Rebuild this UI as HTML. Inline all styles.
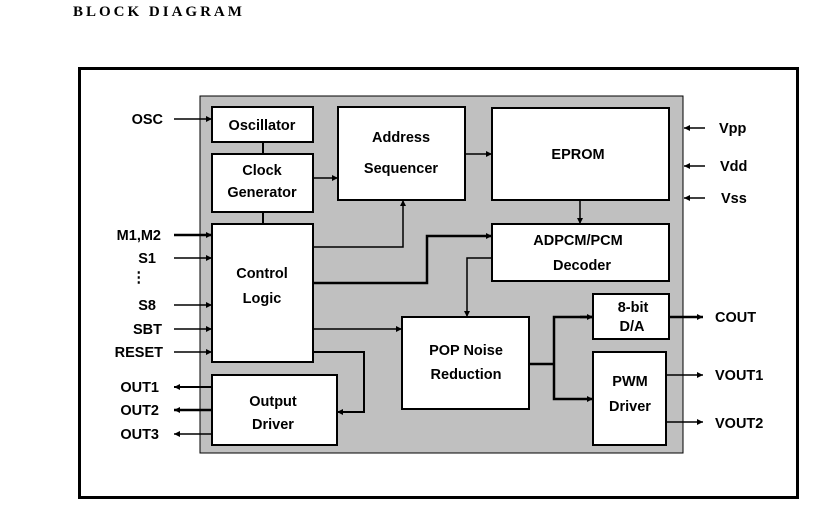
<!DOCTYPE html>
<html><head><style>
html,body{margin:0;padding:0;background:#fff;}
svg{display:block;}
text{font-family:"Liberation Sans",sans-serif;font-weight:bold;font-size:14.5px;fill:#000;}
.t{font-family:"Liberation Serif",serif;font-size:15px;letter-spacing:3px;}
</style></head><body>
<svg width="814" height="512" viewBox="0 0 814 512" xmlns="http://www.w3.org/2000/svg">
<defs>
<marker id="a" markerWidth="6" markerHeight="6" refX="6" refY="3" orient="auto" markerUnits="userSpaceOnUse"><path d="M0,0 L6,3 L0,6 z" fill="#000"/></marker>
</defs>
<text class="t" x="73" y="16">BLOCK DIAGRAM</text>
<rect x="79.5" y="68.5" width="718" height="429" fill="none" stroke="#000" stroke-width="3"/>
<rect x="200" y="96" width="483" height="357" fill="#c0c0c0" stroke="#000" stroke-width="1"/>
<g fill="#fff" stroke="#000" stroke-width="2">
<rect x="212" y="107" width="101" height="35"/>
<rect x="212" y="154" width="101" height="58"/>
<rect x="212" y="224" width="101" height="138"/>
<rect x="212" y="375" width="125" height="70"/>
<rect x="338" y="107" width="127" height="93"/>
<rect x="492" y="108" width="177" height="92"/>
<rect x="492" y="224" width="177" height="57"/>
<rect x="402" y="317" width="127" height="92"/>
<rect x="593" y="294" width="76" height="45"/>
<rect x="593" y="352" width="73" height="93"/>
</g>
<g stroke="#000" stroke-width="1.5" fill="none">
<line x1="174" y1="119" x2="212" y2="119" marker-end="url(#a)"/>
<line x1="263" y1="142" x2="263" y2="154" stroke-width="2"/>
<line x1="263" y1="212" x2="263" y2="224" stroke-width="2"/>
<line x1="313" y1="178" x2="338" y2="178" marker-end="url(#a)"/>
<polyline points="313,247 403,247 403,200" marker-end="url(#a)"/>
<polyline points="313,283 427,283 427,236 492,236" stroke-width="2.5" marker-end="url(#a)"/>
<line x1="313" y1="329" x2="402" y2="329" marker-end="url(#a)"/>
<polyline points="313,352 364,352 364,412 337,412" stroke-width="2" marker-end="url(#a)"/>
<polyline points="492,258 467,258 467,317" marker-end="url(#a)"/>
<line x1="580" y1="200" x2="580" y2="224" marker-end="url(#a)"/>
<line x1="465" y1="154" x2="492" y2="154" marker-end="url(#a)"/>
<polyline points="529,364 554,364" stroke-width="2.5"/>
<polyline points="593,317 554,317 554,399 593,399" stroke-width="2.5"/>
<line x1="580" y1="317" x2="593" y2="317" stroke-width="2.5" marker-end="url(#a)"/>
<line x1="580" y1="399" x2="593" y2="399" stroke-width="2" marker-end="url(#a)"/>
<line x1="669" y1="317" x2="703" y2="317" stroke-width="2.5" marker-end="url(#a)"/>
<line x1="666" y1="375" x2="703" y2="375" marker-end="url(#a)"/>
<line x1="666" y1="422" x2="703" y2="422" marker-end="url(#a)"/>
<line x1="705" y1="128" x2="684" y2="128" marker-end="url(#a)"/>
<line x1="705" y1="166" x2="684" y2="166" marker-end="url(#a)"/>
<line x1="705" y1="198" x2="684" y2="198" marker-end="url(#a)"/>
<line x1="174" y1="235" x2="212" y2="235" stroke-width="2.5" marker-end="url(#a)"/>
<line x1="174" y1="258" x2="212" y2="258" marker-end="url(#a)"/>
<line x1="174" y1="305" x2="212" y2="305" marker-end="url(#a)"/>
<line x1="174" y1="329" x2="212" y2="329" marker-end="url(#a)"/>
<line x1="174" y1="352" x2="212" y2="352" marker-end="url(#a)"/>
<line x1="212" y1="387" x2="174" y2="387" stroke-width="2" marker-end="url(#a)"/>
<line x1="212" y1="410" x2="174" y2="410" stroke-width="2.5" marker-end="url(#a)"/>
<line x1="212" y1="434" x2="174" y2="434" marker-end="url(#a)"/>
</g>
<g text-anchor="middle">
<text x="262" y="130">Oscillator</text>
<text x="262" y="175">Clock</text>
<text x="262" y="197">Generator</text>
<text x="262" y="278">Control</text>
<text x="262" y="303">Logic</text>
<text x="273" y="406">Output</text>
<text x="273" y="429">Driver</text>
<text x="401" y="142">Address</text>
<text x="401" y="173">Sequencer</text>
<text x="578" y="159">EPROM</text>
<text x="578" y="245">ADPCM/PCM</text>
<text x="582" y="270">Decoder</text>
<text x="466" y="355">POP Noise</text>
<text x="466" y="379">Reduction</text>
<text x="633" y="312">8-bit</text>
<text x="632" y="331">D/A</text>
<text x="630" y="386">PWM</text>
<text x="630" y="411">Driver</text>
</g>
<g text-anchor="end">
<text x="163" y="124">OSC</text>
<text x="161" y="240">M1,M2</text>
<text x="156" y="263">S1</text>
<text x="146" y="282">⋮</text>
<text x="156" y="310">S8</text>
<text x="162" y="334">SBT</text>
<text x="163" y="357">RESET</text>
<text x="159" y="392">OUT1</text>
<text x="159" y="415">OUT2</text>
<text x="159" y="439">OUT3</text>
</g>
<text x="719" y="133">Vpp</text>
<text x="720" y="171">Vdd</text>
<text x="721" y="203">Vss</text>
<text x="715" y="322">COUT</text>
<text x="715" y="380">VOUT1</text>
<text x="715" y="428">VOUT2</text>
</svg>
</body></html>
